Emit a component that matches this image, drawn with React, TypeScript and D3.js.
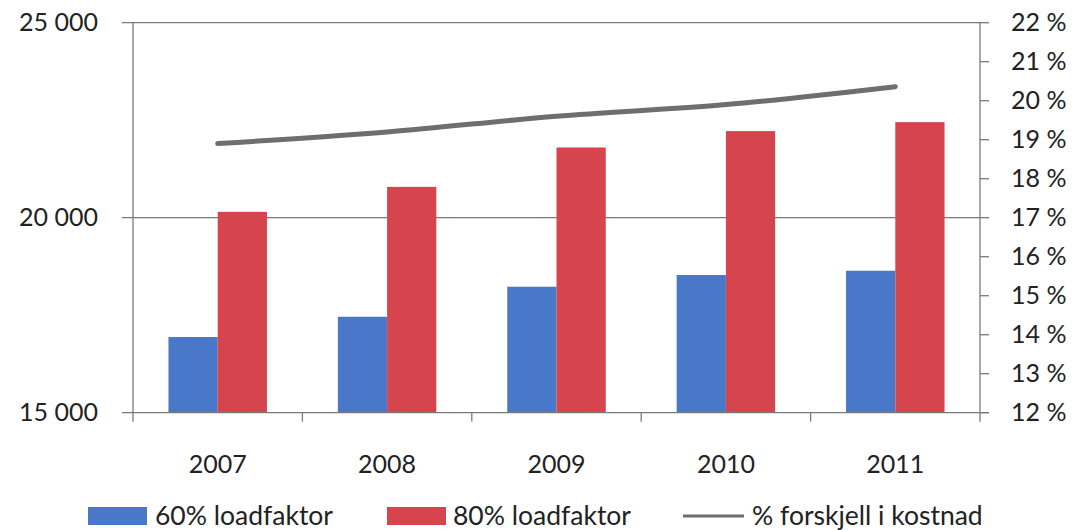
import React, { useEffect, useRef } from 'react';
import * as d3 from 'd3';

const years = ['2007', '2008', '2009', '2010', '2011'];
const load60 = [16940, 17460, 18230, 18530, 18640];
const load80 = [20150, 20790, 21800, 22220, 22450];
const diffPct = [18.9, 19.2, 19.6, 19.9, 20.36];
const leftTicks = [15000, 20000, 25000];
const rightTicks = [12, 13, 14, 15, 16, 17, 18, 19, 20, 21, 22];
const legendLabels = ['60% loadfaktor', '80% loadfaktor', '% forskjell i kostnad'];

const BLUE = '#4a78c8';
const RED = '#d6454e';
const LINE = '#6e6e6e';
const AXIS = '#7a7a7a';
const FONT = 'Lato, "Open Sans", sans-serif';

const App = () => {
  const svgRef = useRef(null);

  useEffect(() => {
    drawChart();
  }, []);

  const drawChart = () => {
    const width = 1073;
    const height = 530;
    const left = 133;
    const right = 980;
    const top = 22.7;
    const bottom = 412.7;

    const svg = d3.select(svgRef.current).attr('width', width).attr('height', height);
    svg.selectAll('*').remove();

    const x = d3.scaleBand().domain(years).range([left, right]).paddingInner(0).paddingOuter(0);
    const inner = d3.scaleBand().domain(['a', 'b']).range([0, x.bandwidth()]).paddingOuter(0.72).paddingInner(0);
    const yLeft = d3.scaleLinear().domain([15000, 25000]).range([bottom, top]);
    const yRight = d3.scaleLinear().domain([12, 22]).range([bottom, top]);

    // gridlines + left ticks
    svg.append('g')
      .selectAll('line')
      .data(leftTicks.slice(1))
      .join('line')
      .attr('x1', left - 11)
      .attr('x2', right)
      .attr('y1', d => yLeft(d))
      .attr('y2', d => yLeft(d))
      .attr('stroke', AXIS)
      .attr('stroke-width', 1.3);

    // bars
    const groups = svg.append('g')
      .selectAll('g')
      .data(years)
      .join('g')
      .attr('transform', d => `translate(${x(d)},0)`);

    groups.append('rect')
      .attr('x', inner('a'))
      .attr('width', inner.bandwidth())
      .attr('y', (d, i) => yLeft(load60[i]))
      .attr('height', (d, i) => bottom - yLeft(load60[i]))
      .attr('fill', BLUE);

    groups.append('rect')
      .attr('x', inner('b'))
      .attr('width', inner.bandwidth())
      .attr('y', (d, i) => yLeft(load80[i]))
      .attr('height', (d, i) => bottom - yLeft(load80[i]))
      .attr('fill', RED);

    // axes lines
    const axisG = svg.append('g').attr('stroke', AXIS).attr('stroke-width', 1.3);
    axisG.append('line').attr('x1', left).attr('x2', left).attr('y1', top).attr('y2', bottom + 9);
    axisG.append('line').attr('x1', right).attr('x2', right).attr('y1', top).attr('y2', bottom + 9);
    axisG.append('line').attr('x1', left - 11).attr('x2', right + 9).attr('y1', bottom).attr('y2', bottom);

    // bottom ticks at band edges
    axisG.selectAll('line.bt')
      .data(years.slice(1))
      .join('line')
      .attr('class', 'bt')
      .attr('x1', d => x(d))
      .attr('x2', d => x(d))
      .attr('y1', bottom)
      .attr('y2', bottom + 9);

    // right ticks
    axisG.selectAll('line.rt')
      .data(rightTicks)
      .join('line')
      .attr('class', 'rt')
      .attr('x1', right)
      .attr('x2', right + 9)
      .attr('y1', d => yRight(d))
      .attr('y2', d => yRight(d));

    // line series
    const line = d3.line()
      .x((d, i) => x(years[i]) + x.bandwidth() / 2)
      .y(d => yRight(d))
      .curve(d3.curveMonotoneX);

    svg.append('path')
      .datum(diffPct)
      .attr('d', line)
      .attr('fill', 'none')
      .attr('stroke', LINE)
      .attr('stroke-width', 5)
      .attr('stroke-linecap', 'round');

    // labels
    const textG = svg.append('g').attr('font-family', FONT).attr('font-size', 25).attr('fill', '#222');

    textG.selectAll('text.ly')
      .data(leftTicks)
      .join('text')
      .attr('class', 'ly')
      .attr('x', 98)
      .attr('y', d => yLeft(d))
      .attr('dy', '0.35em')
      .attr('text-anchor', 'end')
      .text(d => d3.format(',')(d).replace(',', ' '));

    textG.selectAll('text.ry')
      .data(rightTicks)
      .join('text')
      .attr('class', 'ry')
      .attr('x', 1011)
      .attr('y', d => yRight(d))
      .attr('dy', '0.35em')
      .text(d => `${d} %`);

    textG.selectAll('text.xl')
      .data(years)
      .join('text')
      .attr('class', 'xl')
      .attr('x', d => x(d) + x.bandwidth() / 2)
      .attr('y', 464)
      .attr('dy', '0.35em')
      .attr('text-anchor', 'middle')
      .text(d => d);

    // legend
    const legY = 516;
    const legend = [
      { sx: 88, tx: 155, kind: 'rect', color: BLUE },
      { sx: 387, tx: 453, kind: 'rect', color: RED },
      { sx: 683, tx: 752, kind: 'line', color: LINE }
    ];
    legend.forEach((l, i) => {
      if (l.kind === 'rect') {
        svg.append('rect').attr('x', l.sx).attr('y', legY - 9).attr('width', 59).attr('height', 18).attr('fill', l.color);
      } else {
        svg.append('line').attr('x1', l.sx).attr('x2', l.sx + 61).attr('y1', legY).attr('y2', legY)
          .attr('stroke', l.color).attr('stroke-width', 3);
      }
      textG.append('text')
        .attr('x', l.tx)
        .attr('y', legY)
        .attr('dy', '0.35em')
        .attr('font-size', 26.5)
        .text(legendLabels[i]);
    });
  };

  return (
    <svg ref={svgRef} style={{ position: 'absolute', left: 0, top: 0, background: '#fff' }}></svg>
  );
};

export default App;
